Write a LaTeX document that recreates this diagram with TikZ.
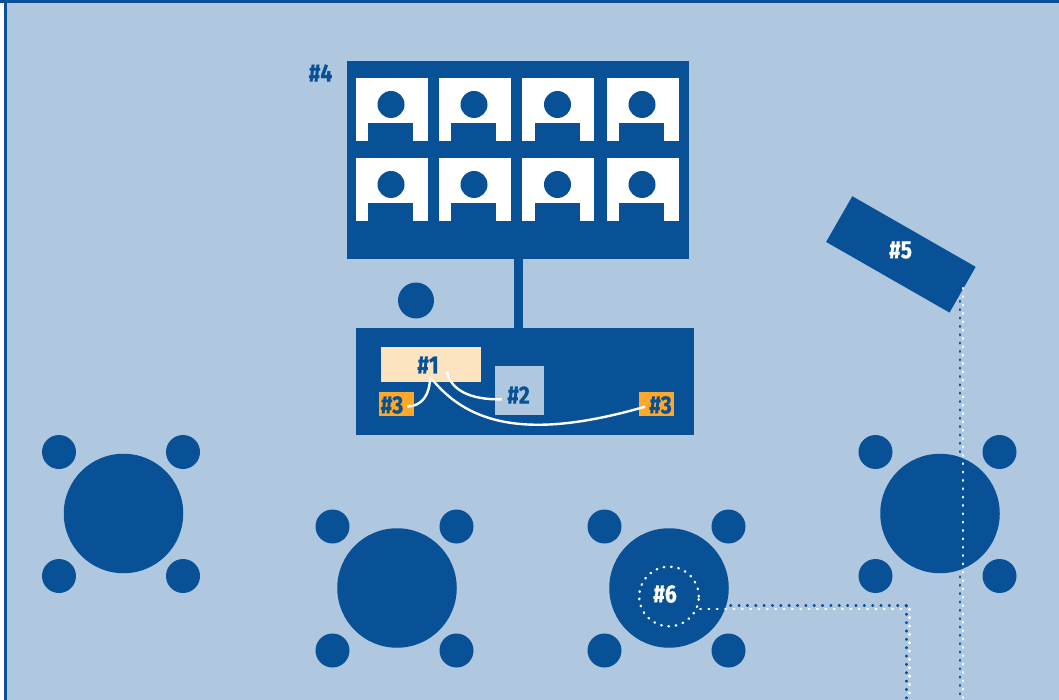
\documentclass[tikz,border=0pt]{standalone}
\usepackage{fontspec}
\newfontfamily\lblfont[FakeStretch=0.84,FakeBold=0.6]{Fira Sans Bold}
\definecolor{navy}{HTML}{085196}
\definecolor{paleblue}{HTML}{B0C8DF}
\definecolor{cream}{HTML}{FDE4C0}
\definecolor{amber}{HTML}{FFA92B}
\tikzset{
  blk/.style={rectangle,fill=navy,inner sep=0pt,outer sep=0pt},
  disc/.style={circle,fill=navy,inner sep=0pt,outer sep=0pt},
  lbl/.style={inner sep=0pt,outer sep=0pt,font=\lblfont\fontsize{25}{25}\selectfont},
  lblblue/.style={lbl,text=navy},
  lblwhite/.style={lbl,text=white},
  link/.style={draw=white,line width=2.4pt},
  dotblue/.style={draw=navy,line width=2.4pt,line cap=round,dash pattern=on 0.7pt off 7.65pt},
  dotwhite/.style={draw=white,line width=2.4pt,line cap=round,dash pattern=on 0.7pt off 7.65pt},
}
\newcommand{\tile}[4]{% name, left x, top y, head x
  \fill[white] (#2,#3) rectangle ++(72,63);
  \node[disc,minimum size=27pt] (#1h) at (#4,#3+26.5) {};
  \fill[navy] (#4-23,#3+45) rectangle ++(45,18);
}
\newcommand{\tablegroup}[3]{% name, centre x, centre y
  \node[disc,minimum size=119.5pt] (#1) at (#2,#3) {};
  \node[disc,minimum size=34pt] (#1a) at (#2-64.5,#3-61.5) {};
  \node[disc,minimum size=34pt] (#1b) at (#2+59.5,#3-61.5) {};
  \node[disc,minimum size=34pt] (#1c) at (#2-64.5,#3+62.5) {};
  \node[disc,minimum size=34pt] (#1d) at (#2+59.5,#3+62.5) {};
}
\begin{document}
\begin{tikzpicture}[x=1pt,y=-1pt]
\useasboundingbox (0,0) rectangle (1059,700);
\fill[paleblue] (0,0) rectangle (1059,700);
\fill[white] (0,0) rectangle (4,700);
\fill[navy] (4,0) rectangle (7,700);
\fill[navy] (0,0) rectangle (1059,3);

% wall screen and stand
\node[blk,minimum width=9pt,minimum height=70pt] (post) at (518.5,293.5) {};
\node[blk,minimum width=342pt,minimum height=198pt] (screen) at (518,160) {};
\tile{ta}{356}{78}{391}
\tile{tb}{439}{78}{474}
\tile{tc}{522}{78}{557.5}
\tile{td}{607}{78}{642}
\tile{te}{356}{158}{391}
\tile{tf}{439}{158}{474}
\tile{tg}{522}{158}{557.5}
\tile{th}{607}{158}{642}
\node[lblblue] (l4) at (320.5,73) {\#4};

% presenter and desk
\node[disc,minimum size=36pt] (presenter) at (416,300.5) {};
\node[blk,minimum width=338pt,minimum height=107pt] (desk) at (525,381.5) {};
\node[rectangle,fill=cream,inner sep=0pt,minimum width=100pt,minimum height=35pt] (n1) at (431,364.5) {};
\node[rectangle,fill=paleblue,inner sep=0pt,minimum width=48.5pt,minimum height=49pt] (n2) at (519.25,390.5) {};
\node[rectangle,fill=amber,inner sep=0pt,minimum width=35pt,minimum height=24pt] (n3a) at (396.5,404) {};
\node[rectangle,fill=amber,inner sep=0pt,minimum width=35pt,minimum height=24pt] (n3b) at (656.5,404) {};
\node[lblblue] (l1) at (428,365) {\#1};
\node[lblblue] (l2) at (518.5,395) {\#2};
\node[lblblue] (l3a) at (392,405) {\#3};
\node[lblblue] (l3b) at (660.5,405) {\#3};

% cables
\coordinate (c1) at (430,377);
\coordinate (c2) at (447,372);
\coordinate (c3) at (432.7,380);
\coordinate (e3a) at (407.3,406.7);
\coordinate (e2) at (501.7,399.3);
\coordinate (e3b) at (645,406.7);
\draw[link] (c1) .. controls (430,395) and (422,406) .. (e3a);
\draw[link] (c2) .. controls (451,390) and (470,400) .. (e2);
\draw[link] (c3) .. controls (470,425) and (530,440) .. (e3b);

% tables
\tablegroup{t1}{123.5}{513.5}
\tablegroup{t2}{397}{588}
\tablegroup{t3}{669}{588}
\tablegroup{t4}{940}{513.5}

% projector
\node[blk,minimum width=142.2pt,minimum height=52.7pt,rotate=-29.8] (proj) at (900.9,254.4) {};
\node[lblwhite] (l5) at (900.5,250) {\#5};

% dotted runs
\coordinate (projout) at (962.8,288);
\coordinate (projblue) at (959.8,301);
\coordinate (ceilw) at (962.8,700);
\coordinate (ceilb) at (959.8,700);
\coordinate (cornerb) at (906.4,605.6);
\coordinate (cornerw) at (909.6,609);
\coordinate (startb) at (725,605.6);
\coordinate (startw) at (697,609);
\coordinate (endb) at (906.4,700);
\coordinate (endw) at (909.6,700);
\draw[dotblue] (projblue) -- (ceilb);
\draw[dotwhite] (projout) -- (ceilw);
\draw[dotblue] (cornerb) -- (startb);
\draw[dotblue] (cornerb) -- (endb);
\draw[dotwhite] (cornerw) -- (startw);
\draw[dotwhite] (cornerw) -- (endw);
\node[circle,inner sep=0pt,outer sep=0pt,minimum size=59.6pt,draw=white,line width=2.4pt,line cap=round,dash pattern=on 0.7pt off 6.65pt] (ring) at (669,596.5) {};
\node[lblwhite] (l6) at (665,594) {\#6};
\end{tikzpicture}
\end{document}
